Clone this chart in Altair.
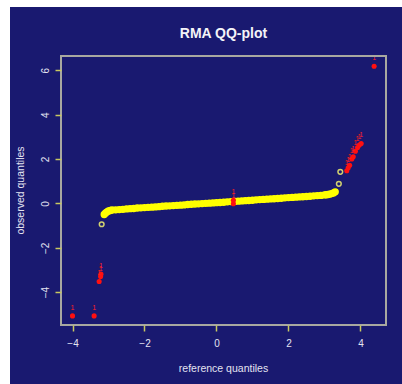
import altair as alt
import pandas as pd

# Central body of the QQ-plot (reference quantile, observed quantile)
band_x = [-3.12, -3.08, -3.04, -3.00, -2.95, -2.90, -2.80, -2.70, -2.60, -2.50,
          -2.40, -2.30, -2.20, -2.10, -2.00, -1.90, -1.80, -1.70, -1.60, -1.50,
          -1.40, -1.30, -1.20, -1.10, -1.00, -0.90, -0.80, -0.70, -0.60, -0.50,
          -0.40, -0.30, -0.20, -0.10, 0.00, 0.10, 0.20, 0.30, 0.40, 0.50,
          0.60, 0.70, 0.80, 0.90, 1.00, 1.10, 1.20, 1.30, 1.40, 1.50,
          1.60, 1.70, 1.80, 1.90, 2.00, 2.10, 2.20, 2.30, 2.40, 2.50,
          2.60, 2.70, 2.80, 2.90, 3.00, 3.05, 3.10, 3.15, 3.20, 3.25,
          3.30]
band_y = [-0.50, -0.43, -0.38, -0.34, -0.32, -0.30, -0.29, -0.28, -0.27, -0.25,
          -0.24, -0.23, -0.21, -0.20, -0.19, -0.18, -0.17, -0.16, -0.15, -0.13,
          -0.12, -0.11, -0.10, -0.09, -0.08, -0.07, -0.05, -0.04, -0.03, -0.02,
          -0.01, 0.00, 0.01, 0.02, 0.03, 0.04, 0.05, 0.07, 0.08, 0.09,
          0.10, 0.11, 0.12, 0.13, 0.14, 0.16, 0.17, 0.18, 0.19, 0.20,
          0.21, 0.22, 0.23, 0.25, 0.26, 0.27, 0.28, 0.29, 0.30, 0.31,
          0.32, 0.34, 0.35, 0.36, 0.38, 0.39, 0.40, 0.42, 0.44, 0.47,
          0.52]

# Isolated unflagged points at the tails
open_x = [-3.19, 3.40, 3.44]
open_y = [-0.94, 0.88, 1.42]

# Flagged points (drawn in red with their labels)
flag_x = [4.38, 3.62, 3.66, 3.70, 3.76, 3.80, 3.86, 3.92, 3.97, 4.02,
          0.47, 0.47, -4.00, -3.40, -3.21, -3.22, -3.26]
flag_y = [6.18, 1.47, 1.60, 1.72, 2.00, 2.10, 2.35, 2.52, 2.63, 2.70,
          -0.02, 0.14, -5.07, -5.07, -3.19, -3.30, -3.52]
flag_label = ["1"] * len(flag_x)

x_ticks = [-4, -2, 0, 2, 4]
y_ticks = [-4, -2, 0, 2, 4, 6]

band = pd.DataFrame({"ref": band_x, "obs": band_y})
opens = pd.DataFrame({"ref": open_x, "obs": open_y})
flags = pd.DataFrame({"ref": flag_x, "obs": flag_y, "lab": flag_label})

NAVY = "#191970"
FONT = "Liberation Sans"
W, H = 325, 269

xs = alt.Scale(domain=[-4.32, 4.71], nice=False, zero=False)
ys = alt.Scale(domain=[-5.48, 6.64], nice=False, zero=False)

x_axis = alt.Axis(values=x_ticks, title="reference quantiles", grid=False,
                  domain=False, tickSize=6, tickColor="#c8c860", tickWidth=1.5,
                  labelColor="#e4e4f0", labelFontSize=10, labelFont=FONT,
                  labelPadding=7, titleColor="#e4e4f0", titleFont=FONT,
                  titleFontSize=10.5, titleFontWeight="normal",
                  titleX=162, titleY=43, titleBaseline="middle", zindex=1)
y_axis = alt.Axis(values=y_ticks, title="observed quantiles", grid=False,
                  domain=False, tickSize=6, tickColor="#c8c860", tickWidth=1.5,
                  labelColor="#e4e4f0", labelFontSize=10, labelFont=FONT,
                  labelAngle=270, labelPadding=5, titleColor="#e4e4f0",
                  titleFont=FONT, titleFontSize=10.5, titleFontWeight="normal",
                  titleX=-41, titleY=134, titleAngle=270,
                  titleBaseline="middle", titleAlign="center", zindex=1)

one = alt.Data(values=[{"k": 0}])

# Dark panel behind the whole figure, leaving a thin white strip top and left
backdrop = alt.Chart(one).mark_rect(fill=NAVY, stroke=None).encode(
    x=alt.value(-51), x2=alt.value(341), y=alt.value(-49), y2=alt.value(328))

frame = alt.Chart(one).mark_rect(fill=None, stroke="#a8a8a0", strokeWidth=2).encode(
    x=alt.value(0), x2=alt.value(W), y=alt.value(0), y2=alt.value(H))

band_layer = alt.Chart(band).mark_point(
    filled=True, color="#ffff00", size=34, stroke="#ffff00", strokeWidth=1.5,
    opacity=1).encode(
    x=alt.X("ref:Q", scale=xs, axis=x_axis),
    y=alt.Y("obs:Q", scale=ys, axis=y_axis))

open_layer = alt.Chart(opens).mark_point(
    filled=False, color="#d0d070", size=22, strokeWidth=1.5, opacity=1).encode(
    x=alt.X("ref:Q", scale=xs), y=alt.Y("obs:Q", scale=ys))

flag_layer = alt.Chart(flags).mark_point(
    filled=True, color="#ff1010", size=26, opacity=1).encode(
    x=alt.X("ref:Q", scale=xs), y=alt.Y("obs:Q", scale=ys))

flag_text = alt.Chart(flags).mark_text(
    color="#ff2020", fontSize=7, font=FONT, dy=-8).encode(
    x=alt.X("ref:Q", scale=xs), y=alt.Y("obs:Q", scale=ys), text="lab:N")

chart = alt.layer(backdrop, band_layer, open_layer, flag_layer, flag_text, frame).properties(
    width=W, height=H,
    autosize=alt.AutoSizeParams(type="none"),
    padding={"left": 61, "top": 56, "right": 16, "bottom": 59},
    background="white",
    title=alt.TitleParams("RMA QQ-plot", font=FONT, fontSize=14,
                          fontWeight="bold", color="#f4f4f8", anchor="middle",
                          baseline="alphabetic", offset=19, dy=64, zindex=1),
).configure_view(stroke=None)

chart.save("out.html", embed_options={"renderer": "svg", "actions": False})
